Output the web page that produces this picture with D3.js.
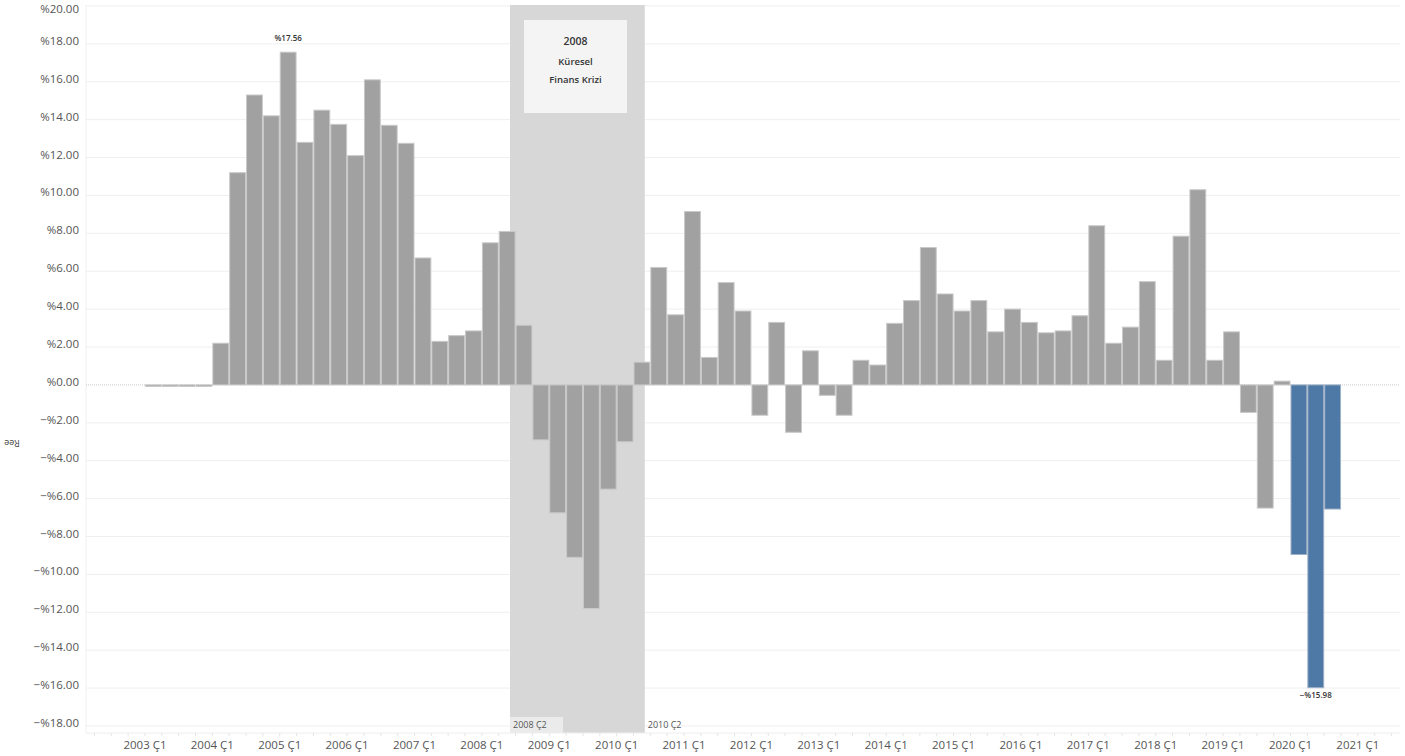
<!DOCTYPE html>
<html>
<head>
<meta charset="utf-8">
<script src="https://cdn.jsdelivr.net/npm/d3@7"></script>
<style>
  body { margin: 0; background: #fff; }
  text { font-family: "Open Sans", "Noto Sans", sans-serif; }
</style>
</head>
<body>
<div id="chart"></div>
<script>
// quarterly growth values (%), 2003 Ç1 .. 2020 Ç3
var startYear = 2003;
var values = [
  -0.08, -0.08, -0.08, -0.08,          // 2003
  2.2, 11.2, 15.3, 14.2,               // 2004
  17.56, 12.8, 14.5, 13.75,            // 2005
  12.1, 16.1, 13.7, 12.75,             // 2006
  6.7, 2.3, 2.6, 2.85,                 // 2007
  7.5, 8.1, 3.15, -2.9,                // 2008
  -6.75, -9.1, -11.8, -5.5,            // 2009
  -3.0, 1.2, 6.2, 3.7,                 // 2010
  9.15, 1.45, 5.4, 3.9,                // 2011
  -1.6, 3.3, -2.5, 1.8,                // 2012
  -0.55, -1.6, 1.3, 1.05,              // 2013
  3.25, 4.45, 7.25, 4.8,               // 2014
  3.9, 4.45, 2.8, 4.0,                 // 2015
  3.3, 2.75, 2.85, 3.65,               // 2016
  8.4, 2.2, 3.05, 5.45,                // 2017
  1.3, 7.85, 10.3, 1.3,                // 2018
  2.8, -1.45, -6.5, 0.2,               // 2019
  -8.95, -15.98, -6.55                 // 2020
];
var highlightFrom = "2020 Ç1";
var yTicks = d3.range(-18, 21, 2);
var xTickYears = d3.range(2003, 2022);
var crisisRange = ["2008 Ç2", "2010 Ç2"];
var crisisText = ["2008", "Küresel", "Finans Krizi"];
var yTitle = "Ree";

var data = values.map(function(v, i) {
  return { q: (startYear + Math.floor(i / 4)) + " Ç" + (i % 4 + 1), i: i, v: v };
});
function qIndex(label) {
  var p = label.split(" Ç");
  return (+p[0] - startYear) * 4 + (+p[1] - 1);
}

var W = 1405, H = 756;
var margin = {top: 5, right: 5, bottom: 23, left: 86};
var width = W - margin.left - margin.right,
    height = H - margin.top - margin.bottom;

var xScale = d3.scaleLinear().domain([-3.5, 74.5]).range([0, width]);
var yScale = d3.scaleLinear().domain([20.05, -18.37]).range([0, height]);

var svg = d3.select("#chart").append("svg")
    .attr("width", W).attr("height", H)
  .append("g")
    .attr("transform", "translate(" + margin.left + "," + margin.top + ")");

// gridlines
svg.append("g").selectAll("line").data(yTicks.filter(function(t) { return t !== 0; }))
  .enter().append("line")
    .attr("x1", 0).attr("x2", width)
    .attr("y1", function(d) { return yScale(d); })
    .attr("y2", function(d) { return yScale(d); })
    .attr("stroke", "#efefef").attr("stroke-width", 1);

svg.append("line")
    .attr("x1", 0).attr("x2", 0).attr("y1", 0).attr("y2", height)
    .attr("stroke", "#f0f0f0");

// crisis shading
var c0 = xScale(qIndex(crisisRange[0]) + 0.67),
    c1 = xScale(qIndex(crisisRange[1]) + 0.67);
svg.append("rect")
    .attr("x", c0).attr("y", 0)
    .attr("width", c1 - c0).attr("height", height)
    .attr("fill", "#d7d7d7");

// zero line
svg.append("line")
    .attr("x1", 0).attr("x2", width)
    .attr("y1", yScale(0)).attr("y2", yScale(0))
    .attr("stroke", "#c8c8c8").attr("stroke-dasharray", "1,1");

// bars
var hi = qIndex(highlightFrom);
svg.append("g").selectAll("rect").data(data).enter().append("rect")
    .attr("x", function(d) { return xScale(d.i) + 0.5; })
    .attr("width", function(d) { return xScale(d.i + 1) - xScale(d.i) - 1; })
    .attr("y", function(d) { return yScale(Math.max(0, d.v)); })
    .attr("height", function(d) { return Math.max(1, Math.abs(yScale(d.v) - yScale(0))); })
    .attr("fill", function(d) { return d.i >= hi ? "#4e78a6" : "#a1a1a1"; })
    .attr("stroke", function(d) { return d.i >= hi ? "#9fb1c6" : "#c9c9c9"; })
    .attr("stroke-width", 1);

// annotation box
var bx = c0 + 14, bw = 103;
svg.append("rect")
    .attr("x", bx).attr("y", 15)
    .attr("width", bw).attr("height", 93)
    .attr("fill", "#f4f4f4");
svg.append("g").selectAll("text").data(crisisText).enter().append("text")
    .attr("x", bx + bw / 2)
    .attr("y", function(d, i) { return [40, 60, 78][i]; })
    .attr("text-anchor", "middle")
    .attr("font-size", function(d, i) { return i === 0 ? "10.5px" : "9.5px"; })
    .attr("font-weight", 600)
    .attr("fill", "#333")
    .text(function(d) { return d; });

// range labels at the bottom
svg.append("rect")
    .attr("x", c0).attr("y", height - 16)
    .attr("width", 53).attr("height", 16)
    .attr("fill", "#ebebeb");
svg.append("text")
    .attr("x", c0 + 3).attr("y", height - 5)
    .attr("font-size", "9px").attr("fill", "#555")
    .text(crisisRange[0]);
svg.append("text")
    .attr("x", c1 + 3).attr("y", height - 5)
    .attr("font-size", "9px").attr("fill", "#555")
    .text(crisisRange[1]);

// value labels for max and min
var maxD = d3.greatest(data, function(d) { return d.v; });
var minD = d3.least(data, function(d) { return d.v; });
function fmtPct(v) { return (v < 0 ? "−" : "") + "%" + Math.abs(v).toFixed(2); }
svg.append("text")
    .attr("x", xScale(maxD.i + 0.5)).attr("y", yScale(maxD.v) - 11)
    .attr("text-anchor", "middle").attr("font-size", "8px").attr("font-weight", 600)
    .attr("fill", "#333").text(fmtPct(maxD.v));
svg.append("text")
    .attr("x", xScale(minD.i + 0.5)).attr("y", yScale(minD.v) + 10)
    .attr("text-anchor", "middle").attr("font-size", "8px").attr("font-weight", 600)
    .attr("fill", "#333").text(fmtPct(minD.v));

// y axis labels
svg.append("g").selectAll("text").data(yTicks).enter().append("text")
    .attr("x", -7)
    .attr("y", function(d) { return Math.max(8, yScale(d) + 1); })
    .attr("text-anchor", "end")
    .attr("font-size", "11.5px")
    .attr("fill", "#555")
    .text(fmtPct);

// x axis
var xAxis = svg.append("g")
    .attr("transform", "translate(0," + height + ")");
xAxis.append("line")
    .attr("x1", 0).attr("x2", width).attr("stroke", "#eee");
xAxis.selectAll(".tk").data(d3.range(-3, 75)).enter().append("line")
    .attr("x1", function(d) { return xScale(d); })
    .attr("x2", function(d) { return xScale(d); })
    .attr("y1", 0).attr("y2", 3)
    .attr("stroke", "#e6e6e6");
xAxis.selectAll("text").data(xTickYears).enter().append("text")
    .attr("x", function(d) { return xScale((d - startYear) * 4); })
    .attr("y", 16)
    .attr("text-anchor", "middle")
    .attr("font-size", "11.5px")
    .attr("fill", "#555")
    .text(function(d) { return d + " Ç1"; });

// y title
d3.select("svg").append("text")
    .attr("transform", "translate(12,440) rotate(180)")
    .attr("text-anchor", "middle")
    .attr("font-size", "9px")
    .attr("fill", "#444")
    .text(yTitle);
</script>
</body>
</html>
